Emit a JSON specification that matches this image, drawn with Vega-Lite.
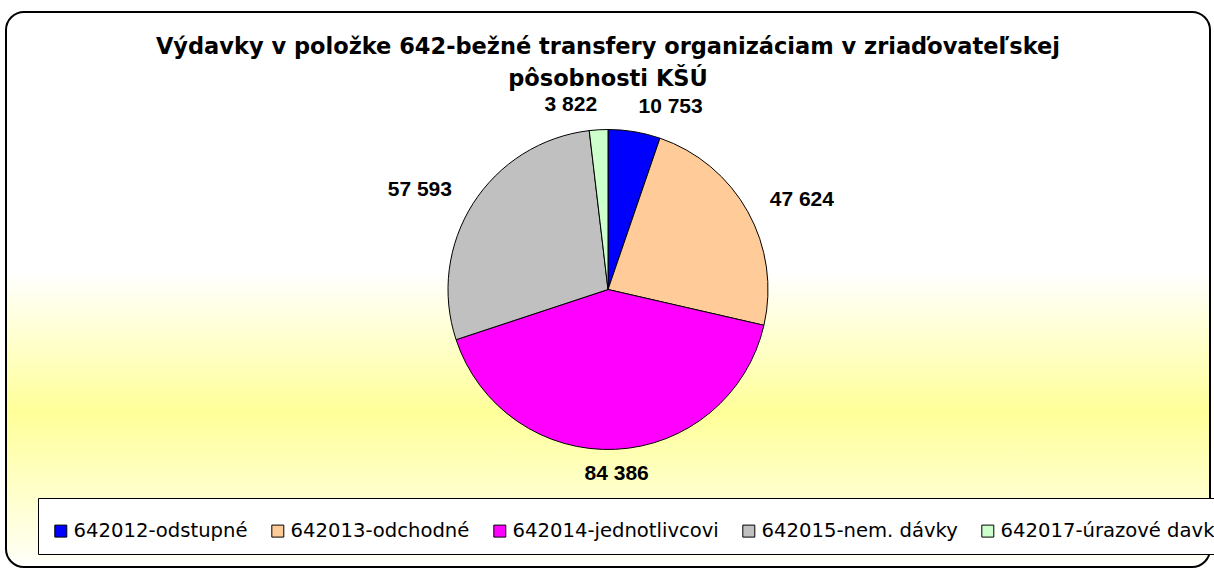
{
  "$schema": "https://vega.github.io/schema/vega-lite/v6.json",
  "width": 1204,
  "height": 555,
  "autosize": {"type": "none"},
  "padding": {"left": 6, "top": 12, "right": 4, "bottom": 2},
  "background": "white",
  "view": {
    "stroke": "black",
    "strokeWidth": 2,
    "cornerRadius": 18,
    "fill": {
      "gradient": "linear",
      "x1": 0, "y1": 0, "x2": 0, "y2": 1,
      "stops": [
        {"offset": 0, "color": "#FFFFFF"},
        {"offset": 0.47, "color": "#FFFFFF"},
        {"offset": 0.72, "color": "#FFFF99"},
        {"offset": 0.97, "color": "#FFFFEE"},
        {"offset": 1, "color": "#FFFFFF"}
      ]
    }
  },
  "title": {
    "text": ["Výdavky v položke 642-bežné transfery organizáciam v zriaďovateľskej", "pôsobnosti KŠÚ"],
    "font": "DejaVu Sans",
    "fontSize": 22.5,
    "fontWeight": "bold",
    "color": "black",
    "anchor": "middle",
    "baseline": "top",
    "lineHeight": 32,
    "offset": -78
  },
  "data": {
    "values": [
      {"category": "642012-odstupné", "value": 10753},
      {"category": "642013-odchodné", "value": 47624},
      {"category": "642014-jednotlivcovi", "value": 84386},
      {"category": "642015-nem. dávky", "value": 57593},
      {"category": "642017-úrazové davky", "value": 3822}
    ]
  },
  "encoding": {
    "theta": {"field": "value", "type": "quantitative", "stack": true},
    "order": {"field": "category", "type": "ordinal", "sort": "ascending"}
  },
  "layer": [
    {
      "mark": {"type": "arc", "outerRadius": 160, "stroke": "black", "strokeWidth": 1},
      "encoding": {
        "color": {
          "field": "category",
          "type": "nominal",
          "scale": {
            "domain": ["642012-odstupné", "642013-odchodné", "642014-jednotlivcovi", "642015-nem. dávky", "642017-úrazové davky"],
            "range": ["#0000FF", "#FFCC99", "#FF00FF", "#C0C0C0", "#CCFFCC"]
          },
          "legend": {
            "orient": "none",
            "legendX": 32,
            "legendY": 486,
            "direction": "horizontal",
            "columns": 5,
            "title": " ",
            "titleFontSize": 2,
            "titlePadding": 8,
            "padding": 13,
            "fillColor": "white",
            "strokeColor": "black",
            "symbolType": "square",
            "symbolSize": 144,
            "symbolStrokeColor": "black",
            "symbolStrokeWidth": 1,
            "symbolOpacity": 1,
            "labelFont": "DejaVu Sans",
            "labelFontSize": 19.6,
            "labelColor": "black",
            "labelLimit": 400,
            "labelOffset": 3,
            "columnPadding": 20
          }
        }
      }
    },
    {
      "transform": [{"joinaggregate": [{"op": "sum", "field": "value", "as": "total"}]}],
      "mark": {
        "type": "text",
        "radius": 185,
        "font": "Liberation Sans",
        "fontSize": 21,
        "fontWeight": "bold",
        "color": "black",
        "align": {"expr": "(datum.value_start + datum.value_end) / 2 < 0.4 * datum.total ? 'left' : ((datum.value_start + datum.value_end) / 2 > 0.6 * datum.total ? 'right' : 'center')"}
      },
      "encoding": {
        "text": {"field": "value", "type": "quantitative", "format": ",d"}
      }
    }
  ],
  "config": {
    "locale": {"number": {"decimal": ",", "thousands": " ", "grouping": [3], "currency": ["", " €"]}}
  }
}
